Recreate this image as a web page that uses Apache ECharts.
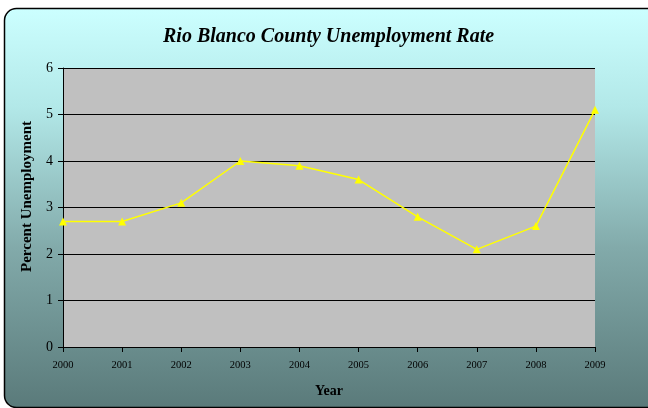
<!DOCTYPE html>
<html><head><meta charset="utf-8">
<script src="https://cdn.jsdelivr.net/npm/echarts@6/dist/echarts.min.js"></script>
<style>html,body{margin:0;padding:0;background:#fff}#c{width:648px;height:408px}</style>
</head><body><div id="c"></div>
<script>
const titleText = 'Rio Blanco County Unemployment Rate';
const years = ['2000','2001','2002','2003','2004','2005','2006','2007','2008','2009'];
const rates = [2.7, 2.7, 3.1, 4.0, 3.9, 3.6, 2.8, 2.1, 2.6, 5.1];
const xName = 'Year';
const yName = 'Percent Unemployment';

const chart = echarts.init(document.getElementById('c'), null, {renderer:'canvas'});
const serif = '"Liberation Serif","DejaVu Serif",serif';
chart.setOption({
  animation:false,
  backgroundColor:'#ffffff',
  graphic:[{
    type:'rect', z:-10, silent:true,
    shape:{x:4.5, y:8.5, width:700, height:399, r:12},
    style:{
      fill:{type:'linear', x:0, y:0, x2:0, y2:1, colorStops:[
        {offset:0, color:'#CCFFFF'},
        {offset:0.25, color:'#B2E8E8'},
        {offset:0.6, color:'#82AAAA'},
        {offset:1, color:'#5A7A7A'}]},
      stroke:'#000', lineWidth:1.5
    }
  }],
  title:{text:titleText, left:158, top:22,
    textStyle:{fontFamily:serif, fontStyle:'italic', fontWeight:'bold', fontSize:20, color:'#000'}},
  grid:{left:63, right:53, top:68, bottom:61, show:true, backgroundColor:'#C0C0C0', borderWidth:0},
  xAxis:{type:'category', data:years, boundaryGap:false,
    name:xName, nameLocation:'middle', nameGap:37,
    nameTextStyle:{fontFamily:serif, fontWeight:'bold', fontSize:14, color:'#000'},
    axisLine:{show:true, lineStyle:{color:'#000', width:1}},
    axisTick:{show:true, alignWithLabel:true, length:5, lineStyle:{color:'#000'}},
    axisLabel:{fontFamily:serif, fontSize:10.5, color:'#000', margin:13},
    splitLine:{show:false}},
  yAxis:{type:'value', min:0, max:6, interval:1,
    name:yName, nameLocation:'middle', nameGap:28,
    nameTextStyle:{fontFamily:serif, fontWeight:'bold', fontSize:15, color:'#000', padding:[0,0,0,22]},
    axisLine:{show:true, lineStyle:{color:'#000', width:1}},
    axisTick:{show:true, length:5, lineStyle:{color:'#000'}},
    axisLabel:{fontFamily:serif, fontSize:14, color:'#000', margin:10},
    splitLine:{show:true, lineStyle:{color:'#000', width:1}}},
  series:[{type:'line', data:rates, symbol:'triangle', symbolSize:8,
    lineStyle:{color:'#FFFF00', width:1.5},
    itemStyle:{color:'#FFFF00'}}]
});
</script></body></html>
